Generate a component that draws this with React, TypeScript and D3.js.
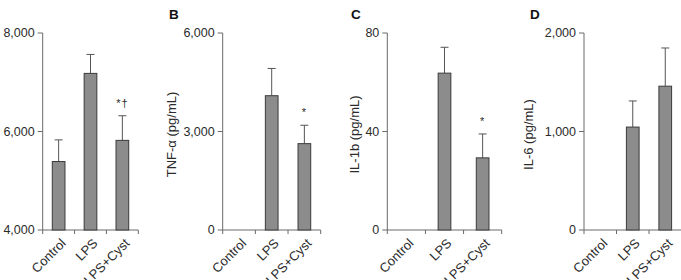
import React from "react";
import * as d3 from "d3";

// Treatment groups shared by every panel
const categories = ["Control", "LPS", "LPS+Cyst"];

// Panel A: total (no unit label)
const aMeans: (number | null)[] = [5390, 7180, 5820];
const aErrors: (number | null)[] = [440, 385, 500];
const aTicks = [4000, 6000, 8000];
const aMarks = ["", "", "*†"];

// Panel B: TNF-α
const bMeans: (number | null)[] = [null, 4090, 2630];
const bErrors: (number | null)[] = [null, 830, 560];
const bTicks = [0, 3000, 6000];
const bMarks = ["", "", "*"];

// Panel C: IL-1b
const cMeans: (number | null)[] = [null, 63.7, 29.3];
const cErrors: (number | null)[] = [null, 10.5, 9.7];
const cTicks = [0, 40, 80];
const cMarks = ["", "", "*"];

// Panel D: IL-6
const dMeans: (number | null)[] = [null, 1045, 1460];
const dErrors: (number | null)[] = [null, 265, 388];
const dTicks = [0, 1000, 2000];
const dMarks = ["", "", ""];

const FONT = "'Liberation Sans', Arial, sans-serif";
const TEXT = "#2b2b2b";
const AXIS = "#6a6a6a";

type PanelProps = {
  letter: string;
  yLabel: string;
  means: (number | null)[];
  errors: (number | null)[];
  ticks: number[];
  marks: string[];
  x0: number;
  x1: number;
  labelX: number;
  letterX: number;
};

const TOP = 33;
const BOTTOM = 230;
const BAR_W = 12.7;
const fmt = d3.format(",");

function Panel(p: PanelProps) {
  const domain = [p.ticks[0], p.ticks[p.ticks.length - 1]];
  const y = d3.scaleLinear().domain(domain).range([BOTTOM, TOP]);
  const x = d3.scalePoint<string>().domain(categories).range([p.x0, p.x1]).padding(0.5);
  const step = x.step();
  const boundaries = d3.range(categories.length + 1).map((i) => p.x0 + i * step);

  return (
    <g>
      {p.letter && (
        <text x={p.letterX} y={19} fontSize={13.5} fontWeight="bold" fill="#111" fontFamily={FONT}>
          {p.letter}
        </text>
      )}
      {p.yLabel && (
        <text
          transform={`translate(${p.labelX},${(TOP + BOTTOM) / 2 + 3}) rotate(-90)`}
          textAnchor="middle"
          fontSize={13}
          fill={TEXT}
          fontFamily={FONT}
        >
          {p.yLabel}
        </text>
      )}
      {/* y axis */}
      <line x1={p.x0} x2={p.x0} y1={TOP} y2={BOTTOM} stroke={AXIS} strokeWidth={1} />
      {p.ticks.map((t) => (
        <g key={t}>
          <line x1={p.x0 - 5} x2={p.x0} y1={y(t)} y2={y(t)} stroke={AXIS} />
          <text
            x={p.x0 - 8}
            y={y(t)}
            dy="0.35em"
            textAnchor="end"
            fontSize={12.5}
            fill={TEXT}
            fontFamily={FONT}
          >
            {fmt(t)}
          </text>
        </g>
      ))}
      {/* x axis */}
      <line x1={p.x0} x2={p.x1} y1={BOTTOM} y2={BOTTOM} stroke={AXIS} />
      {boundaries.map((b, i) => (
        <line key={i} x1={b} x2={b} y1={BOTTOM} y2={BOTTOM + 4} stroke={AXIS} />
      ))}
      {categories.map((c) => (
        <text
          key={c}
          transform={`translate(${(x(c) as number) + 8},${BOTTOM + 14}) rotate(-45)`}
          textAnchor="end"
          fontSize={13}
          fill={TEXT}
          fontFamily={FONT}
        >
          {c}
        </text>
      ))}
      {/* bars with upper error bars */}
      {categories.map((c, i) => {
        const m = p.means[i];
        if (m === null) return null;
        const e = p.errors[i] ?? 0;
        const cx = x(c) as number;
        const yTop = y(m);
        const yErr = y(m + e);
        return (
          <g key={c}>
            <line x1={cx} x2={cx} y1={yTop} y2={yErr} stroke="#555" strokeWidth={1} />
            <line x1={cx - 4} x2={cx + 4} y1={yErr} y2={yErr} stroke="#555" strokeWidth={1} />
            <rect
              x={cx - BAR_W / 2}
              y={yTop}
              width={BAR_W}
              height={BOTTOM - yTop}
              fill="#8c8c8c"
              stroke="#3a3a3a"
              strokeWidth={1}
            />
            {p.marks[i] && (
              <text
                x={cx}
                y={yErr - 9}
                textAnchor="middle"
                fontSize={11}
                fill={TEXT}
                fontFamily={FONT}
                letterSpacing={1}
              >
                {p.marks[i]}
              </text>
            )}
          </g>
        );
      })}
    </g>
  );
}

export default function App() {
  return (
    <svg
      width={681}
      height={280}
      style={{ position: "absolute", left: 0, top: 0, background: "#fff" }}
    >
      <Panel letter="" yLabel="" means={aMeans} errors={aErrors} ticks={aTicks} marks={aMarks}
        x0={42.7} x1={138.3} labelX={0} letterX={0} />
      <Panel letter="B" yLabel="TNF-α (pg/mL)" means={bMeans} errors={bErrors} ticks={bTicks} marks={bMarks}
        x0={222.7} x1={320.7} labelX={176} letterX={169} />
      <Panel letter="C" yLabel="IL-1b (pg/mL)" means={cMeans} errors={cErrors} ticks={cTicks} marks={cMarks}
        x0={387.3} x1={501.7} labelX={359} letterX={351} />
      <Panel letter="D" yLabel="IL-6 (pg/mL)" means={dMeans} errors={dErrors} ticks={dTicks} marks={dMarks}
        x0={584} x1={681.5} labelX={533} letterX={530} />
    </svg>
  );
}
